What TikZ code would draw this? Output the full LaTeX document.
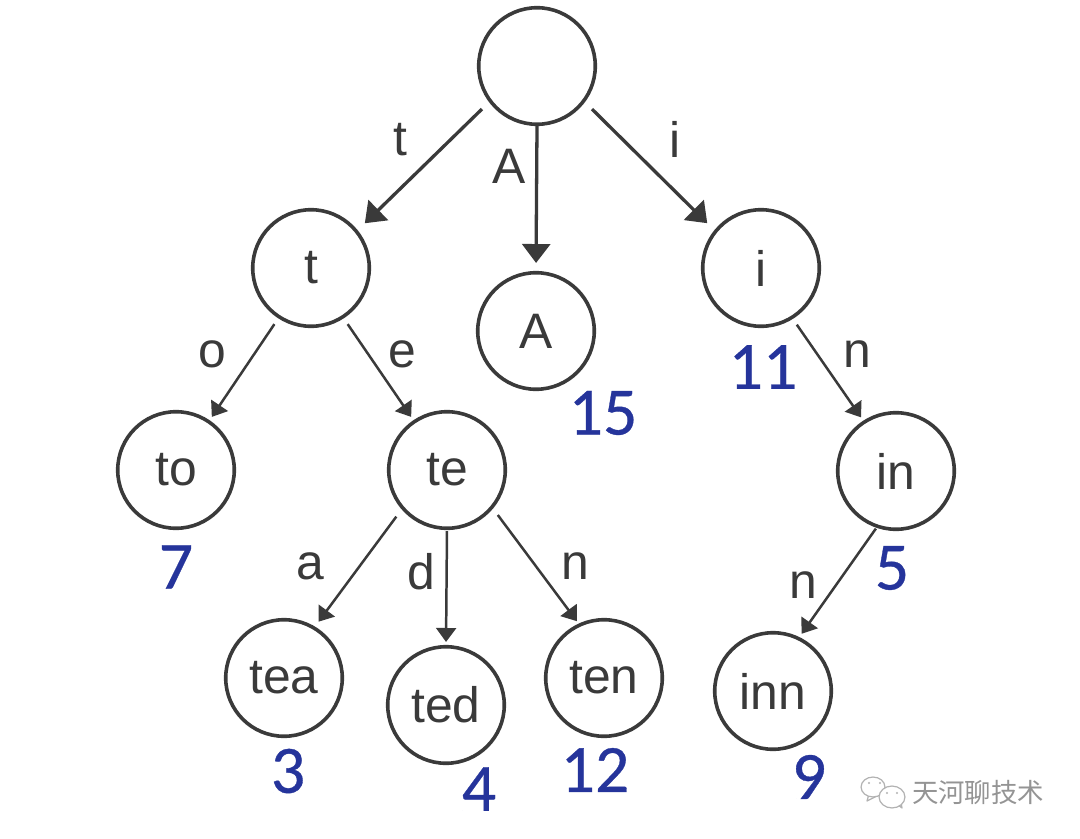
\documentclass[tikz,border=0pt]{standalone}
\usepackage{fontspec}
\setmainfont{Liberation Sans}
\newfontfamily\numfont[FakeBold=0.5]{Carlito}
\newfontfamily\cjkf{Noto Sans CJK SC}
\usetikzlibrary{arrows.meta}
\definecolor{numblue}{HTML}{25349B}
\definecolor{ink}{HTML}{3A3A3A}
\tikzset{x=1bp,y=-1bp,
 trie/.style={circle,draw=ink,line width=3.6pt,minimum size=117pt,inner sep=0pt,text=ink,font=\fontsize{50}{50}\selectfont},
 lab/.style={text=ink,inner sep=0pt,font=\fontsize{50}{50}\selectfont},
 num/.style={text=numblue,inner sep=0pt,font=\numfont\fontsize{68}{68}\selectfont},
 thick edge/.style={draw=ink,line width=3.3pt,shorten <=10pt,shorten >=10pt,-{Triangle[length=19pt,width=28pt]}},
 thin edge/.style={draw=ink,line width=2.5pt,-{Triangle[length=14pt,width=20pt]}},
 wmline/.style={draw=black!30,line width=1.2pt,line join=round},
}
\begin{document}
\begin{tikzpicture}
\useasboundingbox (0,0) rectangle (1080,839);
\fill[white] (0,0) rectangle (1080,839);
\node[trie] (root) at (537,66) {};
\node[trie] (t) at (311,268) {t};
\node[trie] (A) at (536,331) {A};
\node[trie] (i) at (761,268) {i};
\node[trie] (to) at (176,470) {to};
\node[trie] (te) at (447,470) {te};
\node[trie] (in) at (896,471) {in};
\node[trie] (tea) at (284,678) {tea};
\node[trie] (ted) at (446,705) {ted};
\node[trie] (ten) at (604,678) {ten};
\node[trie] (inn) at (773,691) {inn};
\draw[thick edge] (root.217) -- (t.39);
\draw[thick edge,shorten >=8pt,shorten <=0pt] (root.270) -- (A.90);
\draw[thick edge] (root.323) -- (i.141);
\draw[thin edge,shorten <=7pt,shorten >=4pt] (t.237) -- (to.56);
\draw[thin edge,shorten <=7pt,shorten >=4pt] (t.303) -- (te.124);
\draw[thin edge,shorten <=7pt,shorten >=4pt] (i.302) -- (in.123);
\draw[thin edge,shorten <=9pt,shorten >=6pt] (te.221) -- (tea.59);
\draw[thin edge,shorten <=1pt,shorten >=3pt] (te.270) -- (ted.90);
\draw[thin edge,shorten <=8pt,shorten >=3pt] (te.320) -- (ten.115);
\draw[thin edge,shorten <=1pt,shorten >=4pt] (in.251) -- (inn.64);
\node[lab] (lt) at (400,140) {t};
\node[lab] (lA) at (509,166) {A};
\node[lab] (li) at (675,139) {i};
\node[lab] (lo) at (212,354) {o};
\node[lab] (le) at (402,354) {e};
\node[lab] (ln) at (857,354) {n};
\node[lab] (la) at (310,566) {a};
\node[lab] (ld) at (421,572) {d};
\node[lab] (ln2) at (575,566) {n};
\node[lab] (ln3) at (803,585) {n};
\node[num] (n15) at (603,413) {15};
\node[num] (n11) at (763,367) {11};
\node[num] (n7) at (176,567) {7};
\node[num] (n5) at (892,568) {5};
\node[num] (n3) at (288,771) {3};
\node[num] (n4) at (479,789) {4};
\node[num] (n12) at (595,770) {12};
\node[num] (n9) at (809,777) {9};
\node[text=black!42,inner sep=0pt,font=\cjkf\fontsize{26.5}{26.5}\selectfont] (wm) at (978,792) {天河聊技术};
\draw[wmline] (869,794) -- (867,801) -- (877,796);
\draw[wmline,fill=white] (873,787) ellipse [x radius=12pt,y radius=10pt];
\fill[black!30] (869,783) circle (1.2pt) (880,783) circle (1.2pt);
\draw[wmline] (897,804) -- (902,808) -- (901,802);
\draw[wmline,fill=white] (892,797) ellipse [x radius=13pt,y radius=11pt];
\fill[black!30] (887,793) circle (1.2pt) (897,793) circle (1.2pt);
\end{tikzpicture}
\end{document}
